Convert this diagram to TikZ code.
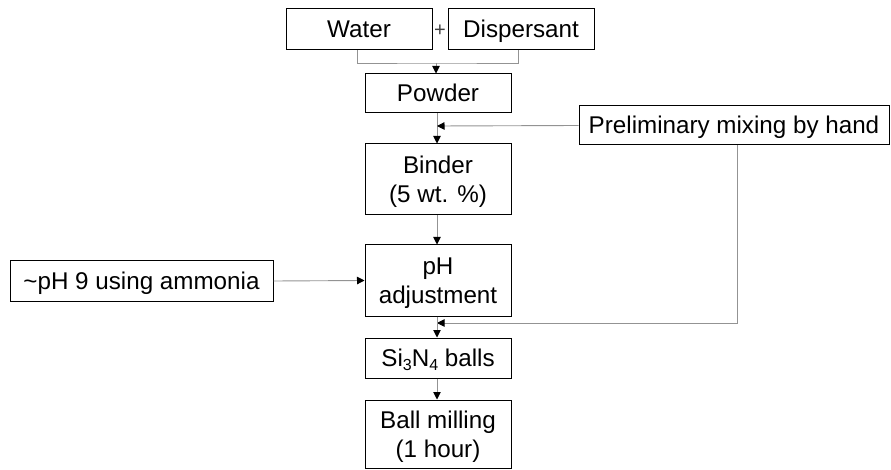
\documentclass[tikz,border=0pt]{standalone}
\usepackage{fontspec}
\setmainfont{Liberation Sans}
\usetikzlibrary{arrows.meta}
\newcommand{\mysub}[1]{\raisebox{-0.35ex}{\fontsize{16}{16}\selectfont #1}}
\newcommand{\topstrut}{\rule{0pt}{23pt}}
\begin{document}
\begin{tikzpicture}[x=1pt,y=-1pt,
  box/.style={draw=black,line width=1pt,inner sep=0pt,align=center,font=\fontsize{24.2}{29}\selectfont},
  one/.style={text height=17pt,text depth=0pt},
  conn/.style={draw=gray!85,line width=0.9pt},
  arr/.style={conn,-{Triangle[length=7.5pt,width=7.5pt,fill=black,color=black]}}]
\useasboundingbox (0,0) rectangle (891,470);
\node[box,one,minimum width=146pt,minimum height=41pt] (water) at (359,29.5) {Water};
\node[box,one,minimum width=146pt,minimum height=41pt] (disp) at (521,29.5) {Dispersant};
\node[inner sep=0pt,font=\fontsize{20}{24}\selectfont,text=black!75] (plus) at (440,31) {+};
\node[box,one,minimum width=146pt,minimum height=39pt] (powder) at (438,93.5) {Powder};
\node[box,one,minimum width=310pt,minimum height=39pt] (prelim) at (734,125.5) {Preliminary mixing by hand};
\node[box,minimum width=146pt,minimum height=71pt] (binder) at (438,179.5) {\topstrut Binder\\(5 wt. \%)};
\node[box,one,minimum width=263pt,minimum height=40pt] (ph9) at (141.5,281) {\textasciitilde pH 9 using ammonia};
\node[box,minimum width=146pt,minimum height=71pt] (phadj) at (438,280.5) {\topstrut pH\\adjustment};
\node[box,one,minimum width=146pt,minimum height=40pt] (si) at (438,358) {Si\mysub{3}N\mysub{4} balls};
\node[box,minimum width=146pt,minimum height=68pt] (ball) at (438,434) {\topstrut Ball milling\\(1 hour)};
\coordinate (j1) at (436,63);
\coordinate (j2) at (437,126);
\coordinate (j3) at (437,323);
\draw[conn] (water.south -| 357,0) |- (j1) -| (disp.south -| 518,0);
\draw[arr] (j1) -- (j1 |- powder.north);
\draw[arr] (powder.south -| j2) -- (binder.north -| j2);
\draw[arr] (prelim.west) -- (j2);
\draw[arr] (binder.south -| j2) -- (phadj.north -| j2);
\draw[arr] (ph9.east) -- (phadj.west);
\draw[arr] (prelim.south -| 737,0) |- (j3);
\draw[arr] (phadj.south -| j3) -- (si.north -| j3);
\draw[arr] (si.south -| j3) -- (ball.north -| j3);
\end{tikzpicture}
\end{document}
